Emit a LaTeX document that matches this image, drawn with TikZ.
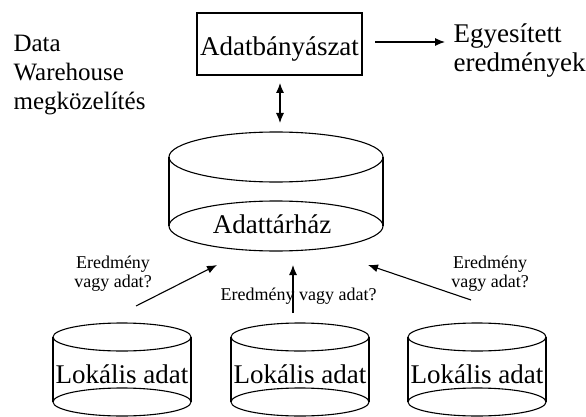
\documentclass[tikz,border=0pt]{standalone}
\usepackage{fontspec}
\setmainfont{Liberation Serif}
\usetikzlibrary{arrows.meta, positioning}

\begin{document}
\begin{tikzpicture}[x=1pt, y=-1pt, line width=1.1pt, >={Latex[length=10pt,width=8pt]},
    bigtext/.style={font=\fontsize{27}{29}\selectfont, inner sep=0pt},
    smalltext/.style={font=\fontsize{18}{19}\selectfont, inner sep=0pt, align=center}]
\useasboundingbox (0,0) rectangle (586,417);

% Left caption
\node[font=\fontsize{25}{29}\selectfont, inner sep=0pt, align=left, anchor=base west] (approach) at (13,110) {Data\\Warehouse\\megközelítés};

% Data mining box and results
\node[draw, bigtext, minimum width=165, minimum height=62, text height=24pt, text depth=0pt] (mining) at (279.5,44) {Adatbányászat};
\node[bigtext, align=left, anchor=base west] (results) at (453,72) {Egyesített\\eredmények};
\coordinate (minout) at (375,42);
\coordinate (resin) at (445,42);
\draw[->] (minout) -- (resin);

% Warehouse cylinder
\draw (276,157) ellipse (107 and 25);
\draw (276,226) ellipse (107 and 25);
\draw (169,157) -- (169,226);
\draw (383,157) -- (383,226);
\node[bigtext, anchor=base] (warehouse) at (272,233) {Adattárház};

% Mining <-> warehouse
\coordinate (minbot) at (280,83);
\coordinate (whtop) at (280,123);
\draw[<->] (minbot) -- (whtop);

% Local data cylinders
\foreach \x [count=\i] in {122,300,477} {
    \draw (\x,337) ellipse (69 and 14);
    \draw (\x,402) ellipse (69 and 14);
    \draw (\x-69,337) -- (\x-69,402);
    \draw (\x+69,337) -- (\x+69,402);
    \node[bigtext, anchor=base] (local\i) at (\x,383) {Lokális adat};
}

% Upward arrows
\coordinate (up1) at (136,306);
\coordinate (in1) at (217,265);
\coordinate (up2) at (293,313);
\coordinate (in2) at (293,265);
\coordinate (up3) at (471,300);
\coordinate (in3) at (368,265);
\foreach \i in {1,2,3} {
    \draw[->] (up\i) -- (in\i);
}

% Question labels
\node[smalltext, anchor=base] (ask1) at (113,287) {Eredmény\\vagy adat?};
\node[smalltext, anchor=base west] (ask2) at (220,300) {Eredmény vagy adat?};
\node[smalltext, anchor=base] (ask3) at (490,287) {Eredmény\\vagy adat?};

\end{tikzpicture}
\end{document}
